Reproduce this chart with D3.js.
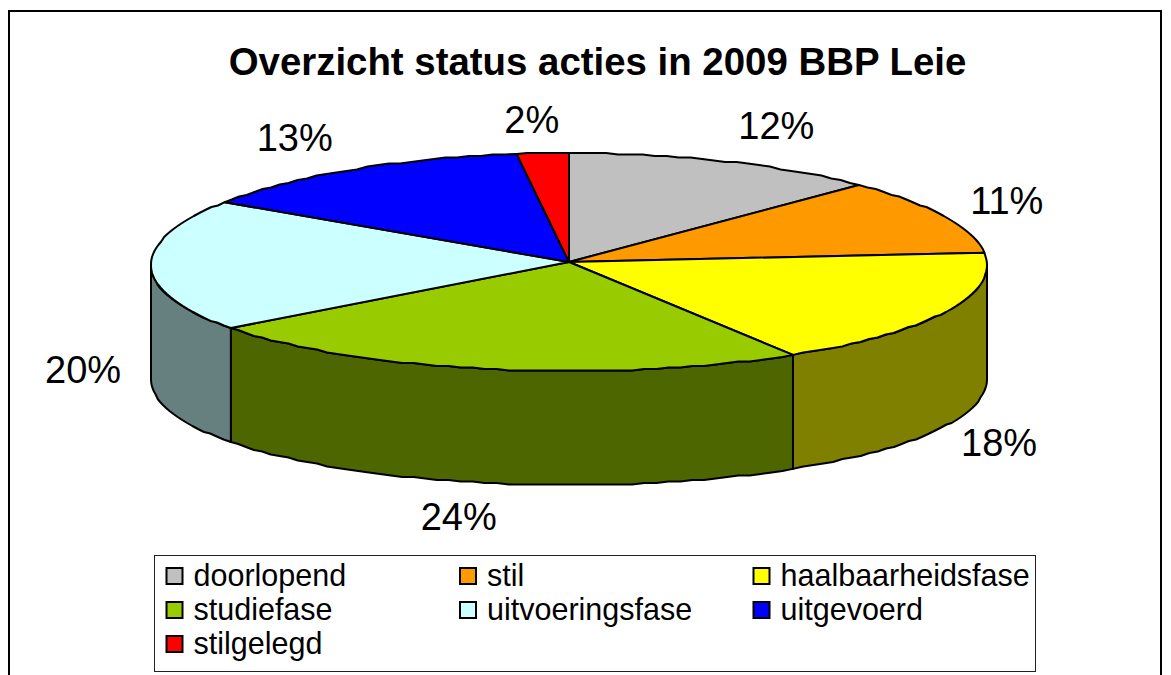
<html>
<head>
<title>Overzicht status acties</title>
<script src="https://d3js.org/d3.v7.min.js"></script>
<style>
  body { margin: 0; background: #fff; }
  svg { display: block; }
  text { font-family: "Liberation Sans", Arial, sans-serif; fill: #000; }
</style>
</head>
<body>
<svg id="chart" width="1171" height="675"></svg>
<script>
const categories = ["doorlopend", "stil", "haalbaarheidsfase", "studiefase", "uitvoeringsfase", "uitgevoerd", "stilgelegd"];
const shares = [12.2, 11.0, 17.8, 24.0, 19.6, 13.4, 2.0];
const colors = ["#c0c0c0", "#ff9900", "#ffff00", "#99cc00", "#ccffff", "#0000ff", "#ff0000"];
const titleText = "Overzicht status acties in 2009 BBP Leie";

const svg = d3.select("#chart");

// pie geometry
const cx = 569, cy = 262, rx = 418, ry = 109, depth = 114, sag = 3;
const labelNudge = [[51, -35], [63, -15], [53, 132], [-32, 148], [-68, 104], [-57, -32], [-11, -33]];

const slices = d3.pie().sort(null)(shares);

const px = a => cx + rx * Math.sin(a);
const py = a => cy - ry * Math.cos(a) + sag * Math.sin(a) * Math.sin(a);
const line = d3.line();

// rim of the ellipse, snapped a bit so it gets the stepped edge of the original
function rim(a0, a1) {
  const n = Math.max(2, Math.ceil(Math.abs(a1 - a0) / 0.03));
  return d3.range(n + 1).map(i => {
    const a = a0 + (a1 - a0) * i / n;
    const snap = i > 0 && i < n;
    return [px(a), snap ? Math.round(py(a) / 1.5) * 1.5 : py(a)];
  });
}

// half brightness for the side walls
function shade(c) {
  const r = d3.rgb(c);
  return d3.rgb(r.r / 2, r.g / 2, r.b / 2).formatHex();
}

// outer frame, bottom edge runs off the page
svg.append("path")
  .attr("d", "M9,675V11H1161V675")
  .attr("fill", "none")
  .attr("stroke", "#000")
  .attr("stroke-width", 2);

svg.append("text")
  .attr("x", 597.5).attr("y", 75)
  .attr("text-anchor", "middle")
  .attr("font-size", 38.4)
  .attr("font-weight", "bold")
  .text(titleText);

// walls, only the part facing the viewer
const walls = slices.map((d, i) => ({
  i,
  a0: Math.max(d.startAngle, Math.PI / 2),
  a1: Math.min(d.endAngle, Math.PI * 1.5)
})).filter(d => d.a1 > d.a0);

svg.append("g").selectAll("path").data(walls).join("path")
  .attr("fill", d => shade(colors[d.i]))
  .attr("stroke", "#000")
  .attr("stroke-width", 2)
  .attr("stroke-linejoin", "round")
  .attr("d", d => {
    const top = rim(d.a0, d.a1);
    const bottom = rim(d.a1, d.a0).map(p => [p[0], p[1] + depth]);
    return line(top.concat(bottom)) + "Z";
  });

// top face
svg.append("g").selectAll("path").data(slices).join("path")
  .attr("fill", (d, i) => colors[i])
  .attr("stroke", "#000")
  .attr("stroke-width", 2)
  .attr("stroke-linejoin", "round")
  .attr("d", d => line([[cx, cy]].concat(rim(d.startAngle, d.endAngle))) + "Z");

// percentage labels
svg.append("g").selectAll("text").data(slices).join("text")
  .attr("text-anchor", "middle")
  .attr("font-size", 38)
  .attr("x", (d, i) => px((d.startAngle + d.endAngle) / 2) + labelNudge[i][0])
  .attr("y", (d, i) => py((d.startAngle + d.endAngle) / 2) + labelNudge[i][1] + 13)
  .text(d => Math.round(d.value) + "%");

// legend
svg.append("rect")
  .attr("x", 154.5).attr("y", 555.5)
  .attr("width", 881).attr("height", 116)
  .attr("fill", "#fff")
  .attr("stroke", "#222")
  .attr("stroke-width", 1);

const colX = d3.scalePoint().domain([0, 1, 2]).range([166, 753]);
const rowY = d3.scalePoint().domain([0, 1, 2]).range([576, 644]);

const items = svg.append("g").selectAll("g").data(categories).join("g")
  .attr("transform", (d, i) => `translate(${colX(i % 3)},${rowY(Math.floor(i / 3))})`);

items.append("rect")
  .attr("x", 0.5).attr("y", -8)
  .attr("width", 16).attr("height", 16)
  .attr("fill", (d, i) => colors[i])
  .attr("stroke", "#000")
  .attr("stroke-width", 2);

items.append("text")
  .attr("x", 27.5).attr("y", 10)
  .attr("font-size", 30.5)
  .text(d => d);
</script>
</body>
</html>
